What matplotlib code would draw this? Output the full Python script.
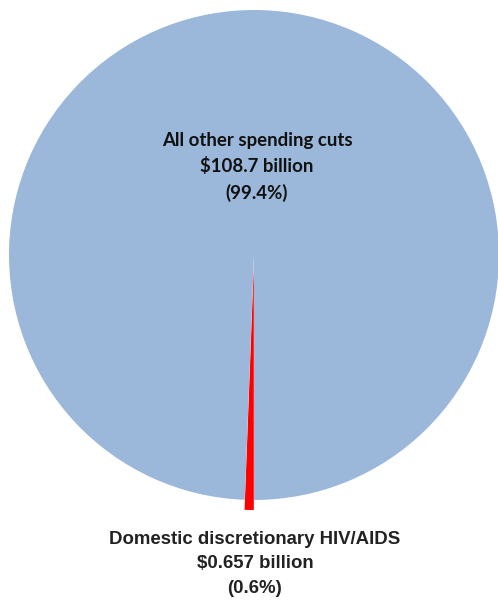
import matplotlib.pyplot as plt

# slice data (billions of dollars)
categories = ['Domestic discretionary HIV/AIDS', 'All other spending cuts']
amounts = [0.657, 108.7]
amount_labels = ['$0.657 billion', '$108.7 billion']
pct_labels = ['(0.6%)', '(99.4%)']
colors = ['#ff0000', '#9bb8da']

fig = plt.figure(figsize=(4.98, 6.01), dpi=100)
ax = fig.add_axes([0, 0, 1, 1])

# work in pixel-like units so the pie sits where the original one does
ax.pie(amounts, colors=colors, center=(254, 346), radius=245,
       startangle=-90, counterclock=False, explode=[10, 0],
       wedgeprops=dict(linewidth=0))

ax.set_xlim(0, 498)
ax.set_ylim(0, 601)
ax.set_aspect('equal')
ax.axis('off')

# label inside the big slice
ax.text(257, 434, '\n'.join([categories[1], amount_labels[1], pct_labels[1]]),
        ha='center', va='center', fontsize=13.4, fontweight='bold',
        family='Lato', linespacing=1.58, color='#111111')

# label below the small slice
ax.text(255, 37, '\n'.join([categories[0], amount_labels[0], pct_labels[0]]),
        ha='center', va='center', fontsize=13.4, fontweight='bold',
        family='Liberation Sans', linespacing=1.58, color='#222222')

plt.savefig('out.png', dpi=100)
plt.close(fig)
